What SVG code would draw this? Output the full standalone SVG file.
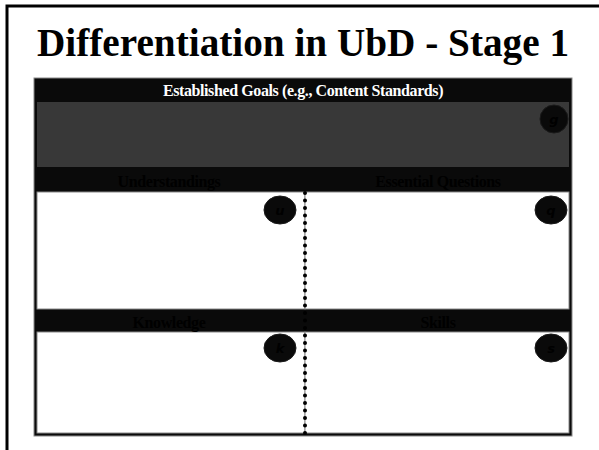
<svg xmlns="http://www.w3.org/2000/svg" width="599" height="450" viewBox="0 0 599 450">
<style>
.frame{fill:none;stroke:#000;stroke-width:3}
.hdr{font-family:"Liberation Serif",serif;font-weight:bold;font-size:16px;text-anchor:middle;letter-spacing:-0.4px}
.badge{fill:#0a0a0a;stroke:#1a1a1a;stroke-width:1}
.bl{font-family:"DejaVu Sans",sans-serif;font-weight:bold;font-style:italic;font-size:13px;fill:#000;text-anchor:middle}
.cell{fill:#fff;stroke:#888;stroke-width:1}
</style>
<rect width="599" height="450" fill="#fff"/>
<path d="M7,450 V6 H599" class="frame"/>
<text x="303" y="56" font-family="Liberation Serif, serif" font-weight="bold" font-size="39" text-anchor="middle" textLength="532" lengthAdjust="spacingAndGlyphs">Differentiation in UbD - Stage 1</text>
<g id="table">
<rect x="34" y="78" width="538" height="358" fill="#0a0a0a" stroke="#888" stroke-width="1"/>
</g>
<g id="goals">
<rect x="37" y="102" width="532" height="65" fill="#383838"/>
<text x="303" y="96" class="hdr" fill="#fff">Established Goals (e.g., Content Standards)</text>
<ellipse cx="554" cy="119" rx="14" ry="14" class="badge"/>
<text x="554" y="124" class="bl">g</text>
</g>
<g id="understandings">
<rect x="37" y="192" width="268" height="117" class="cell"/>
<text x="169" y="187" class="hdr" fill="#000">Understandings</text>
<ellipse cx="280" cy="210" rx="16" ry="14" class="badge"/>
<text x="280" y="215" class="bl">u</text>
</g>
<g id="questions">
<rect x="305" y="192" width="264" height="117" class="cell"/>
<text x="438" y="187" class="hdr" fill="#000">Essential Questions</text>
<ellipse cx="551" cy="210" rx="16" ry="14" class="badge"/>
<text x="551" y="215" class="bl">q</text>
</g>
<g id="knowledge">
<rect x="37" y="332" width="268" height="101" class="cell"/>
<text x="169" y="328" class="hdr" fill="#000">Knowledge</text>
<ellipse cx="280" cy="348" rx="16" ry="14" class="badge"/>
<text x="280" y="353" class="bl">k</text>
</g>
<g id="skills">
<rect x="305" y="332" width="264" height="101" class="cell"/>
<text x="438" y="328" class="hdr" fill="#000">Skills</text>
<ellipse cx="551" cy="348" rx="16" ry="14" class="badge"/>
<text x="551" y="353" class="bl">s</text>
</g>
<g id="connectors">
<line x1="305" y1="193" x2="305" y2="434" stroke="#000" stroke-width="4" stroke-linecap="round" stroke-dasharray="0 7.5"/>
</g>
</svg>
